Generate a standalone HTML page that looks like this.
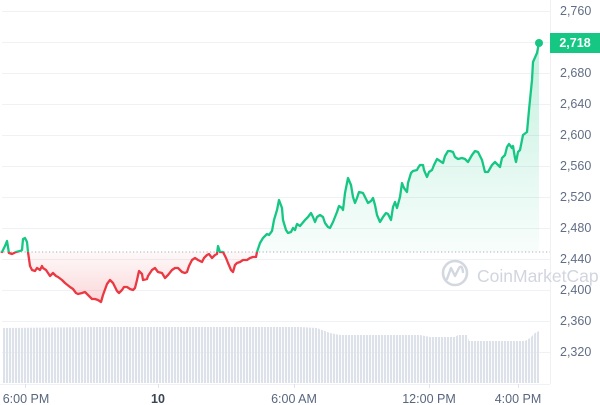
<!DOCTYPE html>
<html><head><meta charset="utf-8"><style>
html,body{margin:0;padding:0;background:#fff;width:600px;height:405px;overflow:hidden}
svg{display:block}
text{font-family:"Liberation Sans",sans-serif}
</style></head><body>
<svg width="600" height="405" viewBox="0 0 600 405" xmlns="http://www.w3.org/2000/svg">
<defs>
<linearGradient id="gg" x1="0" y1="40" x2="0" y2="252" gradientUnits="userSpaceOnUse">
<stop offset="0" stop-color="#16c784" stop-opacity="0.26"/>
<stop offset="1" stop-color="#16c784" stop-opacity="0.03"/>
</linearGradient>
<linearGradient id="rg" x1="0" y1="252" x2="0" y2="302" gradientUnits="userSpaceOnUse">
<stop offset="0" stop-color="#ea3943" stop-opacity="0.03"/>
<stop offset="1" stop-color="#ea3943" stop-opacity="0.2"/>
</linearGradient>
<clipPath id="above"><rect x="0" y="0" width="550" height="252"/></clipPath>
<clipPath id="below"><rect x="0" y="252" width="550" height="140"/></clipPath>
<pattern id="vb" x="3" y="0" width="3" height="10" patternUnits="userSpaceOnUse">
<rect x="0" y="0" width="2.1" height="10" fill="#dde1ea"/>
</pattern>
<clipPath id="vol"><polygon points="3,328 100,327 300,327 317,328 330,333 340,335 420,335 430,337 455,337 458,335 467,335 469,341 525,341 530,338 535,333 539,331 539,383 3,383"/></clipPath>
</defs>

<g stroke="#eff1f4" stroke-width="1">
<line x1="2" y1="11.5" x2="550" y2="11.5"/>
<line x1="2" y1="42.5" x2="550" y2="42.5"/>
<line x1="2" y1="73.5" x2="550" y2="73.5"/>
<line x1="2" y1="104.5" x2="550" y2="104.5"/>
<line x1="2" y1="135.5" x2="550" y2="135.5"/>
<line x1="2" y1="166.5" x2="550" y2="166.5"/>
<line x1="2" y1="197.5" x2="550" y2="197.5"/>
<line x1="2" y1="228.5" x2="550" y2="228.5"/>
<line x1="2" y1="259.5" x2="550" y2="259.5"/>
<line x1="2" y1="290.5" x2="550" y2="290.5"/>
<line x1="2" y1="321.5" x2="550" y2="321.5"/>
<line x1="2" y1="352.5" x2="550" y2="352.5"/>
</g>
<line x1="550.5" y1="0" x2="550.5" y2="384" stroke="#eff1f4"/>

<rect x="3" y="320" width="540" height="64" fill="url(#vb)" clip-path="url(#vol)"/>
<line x1="0" y1="384.5" x2="550" y2="384.5" stroke="#eff1f4"/>

<g opacity="0.9">
<circle cx="455" cy="273" r="12" fill="none" stroke="#cfd3dc" stroke-width="2.6"/>
<path d="M447,279 L451,268 L455,276 L459,268 Q462,264 463,272" fill="none" stroke="#cfd3dc" stroke-width="2.4" stroke-linecap="round" stroke-linejoin="round"/>
<text x="477" y="282" font-size="17.5" fill="#cdd1db">CoinMarketCap</text>
</g>

<line x1="0" y1="252" x2="550" y2="252" stroke="#a9b0bd" stroke-width="1" stroke-dasharray="1.2,2.3"/>

<g>
<polygon clip-path="url(#above)" fill="url(#gg)" points="2,252 5,246 7,241 9,253 12,254 16,252 20,251 22,250 23,239 25,238 27,242 28,252 30,266 32,270 35,271 37,268 40,270 42,266 43,268 46,270 48,273 50,276 53,273 56,276 58,277 62,280 65,283 70,287 73,289 76,293 78,294 82,293 85,292 88,295 92,299 95,299 98,300 101,302 103,295 107,284 110,280 113,283 117,291 119,293 122,290 124,287 127,287 130,289 133,290 135,288 137,280 139,271 142,274 143,280 147,279 148,276 152,270 155,268 158,272 162,273 165,278 168,275 172,270 175,268 178,268 182,272 185,273 187,272 189,266 192,260 195,258 198,260 202,262 204,258 207,255 209,254 212,258 215,255 217,254 218,246 220,252 223,252 226,258 228,263 231,270 233,272 235,265 237,263 240,262 243,260 247,260 250,258 253,257 256,257 257,252 260,243 263,238 267,234 269,235 272,231 274,220 277,210 279,200 282,208 283,220 286,230 288,233 291,232 293,228 295,230 297,224 300,226 305,220 308,217 311,213 313,217 315,222 317,217 320,215 323,217 325,223 328,227 330,228 333,222 337,212 339,206 342,208 343,210 345,193 348,178 351,185 353,197 355,203 357,198 359,192 363,193 365,197 368,203 371,201 373,198 375,205 377,215 380,222 383,217 386,213 388,214 391,220 393,207 395,202 397,208 400,197 402,183 404,188 407,192 408,183 411,173 413,171 417,170 418,168 420,165 423,165 424,170 427,177 429,172 432,170 434,165 437,159 440,161 443,163 445,156 448,151 450,151 453,152 455,157 458,159 462,158 465,159 468,162 472,155 475,151 478,152 482,160 485,172 488,172 492,165 495,162 498,165 500,167 502,158 505,155 507,147 509,144 512,148 513,146 515,158 516,162 518,152 520,150 523,135 527,132 529,110 532,80 533,62 537,53 539,43 539,252"/>
<polygon clip-path="url(#below)" fill="url(#rg)" points="2,252 5,246 7,241 9,253 12,254 16,252 20,251 22,250 23,239 25,238 27,242 28,252 30,266 32,270 35,271 37,268 40,270 42,266 43,268 46,270 48,273 50,276 53,273 56,276 58,277 62,280 65,283 70,287 73,289 76,293 78,294 82,293 85,292 88,295 92,299 95,299 98,300 101,302 103,295 107,284 110,280 113,283 117,291 119,293 122,290 124,287 127,287 130,289 133,290 135,288 137,280 139,271 142,274 143,280 147,279 148,276 152,270 155,268 158,272 162,273 165,278 168,275 172,270 175,268 178,268 182,272 185,273 187,272 189,266 192,260 195,258 198,260 202,262 204,258 207,255 209,254 212,258 215,255 217,254 218,246 220,252 223,252 226,258 228,263 231,270 233,272 235,265 237,263 240,262 243,260 247,260 250,258 253,257 256,257 257,252"/>
</g>

<g fill="none" stroke-width="2.3" stroke-linejoin="round" stroke-linecap="round">
<polyline clip-path="url(#above)" stroke="#16c784" points="2,252 5,246 7,241 9,253 12,254 16,252 20,251 22,250 23,239 25,238 27,242 28,252 30,266 32,270 35,271 37,268 40,270 42,266 43,268 46,270 48,273 50,276 53,273 56,276 58,277 62,280 65,283 70,287 73,289 76,293 78,294 82,293 85,292 88,295 92,299 95,299 98,300 101,302 103,295 107,284 110,280 113,283 117,291 119,293 122,290 124,287 127,287 130,289 133,290 135,288 137,280 139,271 142,274 143,280 147,279 148,276 152,270 155,268 158,272 162,273 165,278 168,275 172,270 175,268 178,268 182,272 185,273 187,272 189,266 192,260 195,258 198,260 202,262 204,258 207,255 209,254 212,258 215,255 217,254 218,246 220,252 223,252 226,258 228,263 231,270 233,272 235,265 237,263 240,262 243,260 247,260 250,258 253,257 256,257 257,252 260,243 263,238 267,234 269,235 272,231 274,220 277,210 279,200 282,208 283,220 286,230 288,233 291,232 293,228 295,230 297,224 300,226 305,220 308,217 311,213 313,217 315,222 317,217 320,215 323,217 325,223 328,227 330,228 333,222 337,212 339,206 342,208 343,210 345,193 348,178 351,185 353,197 355,203 357,198 359,192 363,193 365,197 368,203 371,201 373,198 375,205 377,215 380,222 383,217 386,213 388,214 391,220 393,207 395,202 397,208 400,197 402,183 404,188 407,192 408,183 411,173 413,171 417,170 418,168 420,165 423,165 424,170 427,177 429,172 432,170 434,165 437,159 440,161 443,163 445,156 448,151 450,151 453,152 455,157 458,159 462,158 465,159 468,162 472,155 475,151 478,152 482,160 485,172 488,172 492,165 495,162 498,165 500,167 502,158 505,155 507,147 509,144 512,148 513,146 515,158 516,162 518,152 520,150 523,135 527,132 529,110 532,80 533,62 537,53 539,43"/>
<polyline clip-path="url(#below)" stroke="#ea3943" points="2,252 5,246 7,241 9,253 12,254 16,252 20,251 22,250 23,239 25,238 27,242 28,252 30,266 32,270 35,271 37,268 40,270 42,266 43,268 46,270 48,273 50,276 53,273 56,276 58,277 62,280 65,283 70,287 73,289 76,293 78,294 82,293 85,292 88,295 92,299 95,299 98,300 101,302 103,295 107,284 110,280 113,283 117,291 119,293 122,290 124,287 127,287 130,289 133,290 135,288 137,280 139,271 142,274 143,280 147,279 148,276 152,270 155,268 158,272 162,273 165,278 168,275 172,270 175,268 178,268 182,272 185,273 187,272 189,266 192,260 195,258 198,260 202,262 204,258 207,255 209,254 212,258 215,255 217,254 218,246 220,252 223,252 226,258 228,263 231,270 233,272 235,265 237,263 240,262 243,260 247,260 250,258 253,257 256,257 257,252 260,243"/>
</g>
<circle cx="539" cy="43" r="4" fill="#16c784"/>

<g font-size="12.5" fill="#616e85" text-anchor="start" dominant-baseline="central">
<text x="560" y="11">2,760</text>
<text x="560" y="73">2,680</text>
<text x="560" y="104">2,640</text>
<text x="560" y="135">2,600</text>
<text x="560" y="166">2,560</text>
<text x="560" y="197">2,520</text>
<text x="560" y="228">2,480</text>
<text x="560" y="259">2,440</text>
<text x="560" y="290">2,400</text>
<text x="560" y="321">2,360</text>
<text x="560" y="352">2,320</text>
</g>
<rect x="550" y="33" width="50" height="20" fill="#16c784"/>
<text x="575" y="43" font-size="12.5" font-weight="bold" fill="#fff" text-anchor="middle" dominant-baseline="central">2,718</text>

<g stroke="#dfe2e8">
<line x1="25.5" y1="384" x2="25.5" y2="388"/>
<line x1="158.5" y1="384" x2="158.5" y2="388"/>
<line x1="294.5" y1="384" x2="294.5" y2="388"/>
<line x1="429.5" y1="384" x2="429.5" y2="388"/>
<line x1="518.5" y1="384" x2="518.5" y2="388"/>
</g>
<g font-size="12.5" fill="#58667e" text-anchor="middle" dominant-baseline="central">
<text x="26" y="399">6:00 PM</text>
<text x="158" y="399" font-weight="bold" fill="#3c4555">10</text>
<text x="294" y="399">6:00 AM</text>
<text x="429" y="399">12:00 PM</text>
<text x="518" y="399">4:00 PM</text>
</g>
</svg>
</body></html>
